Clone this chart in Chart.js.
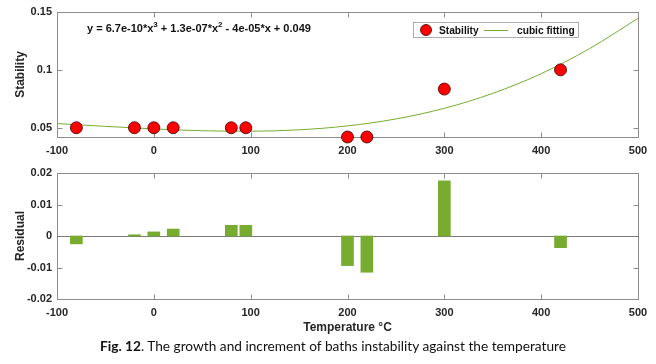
<!DOCTYPE html>
<html lang="en">
<head>
<meta charset="UTF-8" />
<title>Stability</title>
<style>
  body { margin: 0; background: #fff; }
  #wrap { position: relative; width: 656px; height: 364px; }
  .box { position: absolute; left: 0; width: 656px; }
  #topBox { top: 0; height: 160px; }
  #botBox { top: 160px; height: 178px; }
  #caption { position: absolute; left: 0; width: 666px; top: 337px; text-align: center;
             font: 13.7px Lato, sans-serif; color: #111; }
</style>
</head>
<body>
<div id="wrap">
  <div class="box" id="topBox"><canvas id="fitChart"></canvas></div>
  <div class="box" id="botBox"><canvas id="resChart"></canvas></div>
  <div id="caption"><b>Fig. 12</b>. The growth and increment of baths instability against the temperature</div>
</div>
<script src="https://cdn.jsdelivr.net/npm/chart.js"></script>
<script>
// measured points
const temps = [-80, -20, 0, 20, 80, 95, 200, 220, 300, 420];
const stability = [0.05, 0.05, 0.05, 0.05, 0.05, 0.05, 0.042, 0.042, 0.0834, 0.1];
const residuals = [-0.0025, 0.0004, 0.0013, 0.0022, 0.0034, 0.0034, -0.0094, -0.0115, 0.0175, -0.0037];
// fitted curve
const fitX = [-100, -50, 0, 50, 100, 150, 200, 250, 300, 350, 400, 450, 500];
const fitY = [0.0536, 0.0512, 0.049, 0.0474, 0.047, 0.0482, 0.0516, 0.0576, 0.0668, 0.0797, 0.0967, 0.1184, 0.1445];
const xTicks = [-100, 0, 100, 200, 300, 400, 500];
const stabTicks = [0.05, 0.1, 0.15];
const resTicks = [-0.02, -0.01, 0, 0.01, 0.02];

const axisFont = { family: 'Liberation Sans', size: 11, weight: 'bold' };
const titleFont = { family: 'Liberation Sans', size: 12, weight: 'bold' };
const textCol = '#262626';
const green = 'rgb(119,172,48)';

// matlab style box with inward ticks
const frame = {
  id: 'frame',
  beforeDatasetsDraw(chart, args, opts) {
    const { ctx, chartArea: a, scales } = chart;
    ctx.save();
    ctx.strokeStyle = '#8c8c8c';
    ctx.lineWidth = 1;
    const L = Math.round(a.left) + 0.5, R = Math.round(a.right) + 0.5;
    const T = Math.round(a.top) + 0.5, B = Math.round(a.bottom) + 0.5;
    ctx.strokeRect(L, T, R - L, B - T);
    ctx.beginPath();
    for (const v of xTicks) {
      const px = Math.round(scales.x.getPixelForValue(v)) + 0.5;
      ctx.moveTo(px, B); ctx.lineTo(px, B - 5);
      ctx.moveTo(px, T); ctx.lineTo(px, T + 5);
    }
    for (const v of opts.yTicks) {
      const py = Math.round(scales.y.getPixelForValue(v)) + 0.5;
      ctx.moveTo(L, py); ctx.lineTo(L + 5, py);
      ctx.moveTo(R, py); ctx.lineTo(R - 5, py);
    }
    ctx.stroke();
    if (opts.zero) {
      const py = Math.round(scales.y.getPixelForValue(0)) + 0.5;
      ctx.strokeStyle = '#7a7a7a';
      ctx.beginPath();
      ctx.moveTo(L, py); ctx.lineTo(R, py);
      ctx.stroke();
    }
    ctx.restore();
  }
};

// equation text and legend box
const notes = {
  id: 'notes',
  afterDraw(chart) {
    const ctx = chart.ctx;
    ctx.save();
    ctx.fillStyle = '#111';
    ctx.textBaseline = 'alphabetic';
    const parts = [['y = 6.7e-10*x', 0], ['3', 1], [' + 1.3e-07*x', 0], ['2', 1], [' - 4e-05*x + 0.049', 0]];
    let x = 87;
    for (const [s, sup] of parts) {
      ctx.font = sup ? 'bold 8px "Liberation Sans"' : 'bold 11px "Liberation Sans"';
      ctx.fillText(s, x, sup ? 27 : 32);
      x += ctx.measureText(s).width;
    }
    // legend
    ctx.fillStyle = '#fff';
    ctx.strokeStyle = '#9a9a9a';
    ctx.fillRect(413, 22, 165, 15);
    ctx.strokeRect(413.5, 22.5, 165, 15);
    ctx.beginPath();
    ctx.arc(426, 30, 5.5, 0, Math.PI * 2);
    ctx.fillStyle = 'red';
    ctx.fill();
    ctx.strokeStyle = '#3a0000';
    ctx.lineWidth = 0.8;
    ctx.stroke();
    ctx.strokeStyle = green;
    ctx.lineWidth = 1;
    ctx.beginPath();
    ctx.moveTo(484, 30.5); ctx.lineTo(508, 30.5);
    ctx.stroke();
    ctx.fillStyle = '#111';
    ctx.font = 'bold 10.2px "Liberation Sans"';
    ctx.fillText('Stability', 439, 34);
    ctx.fillText('cubic fitting', 517, 34);
    ctx.restore();
  }
};

function xScale(title) {
  return {
    type: 'linear', min: -100, max: 500, offset: false,
    afterBuildTicks: s => { s.ticks = xTicks.map(v => ({ value: v })); },
    afterFit: s => { s.height = title ? 39 : 23; },
    grid: { display: false, drawTicks: false },
    border: { display: false },
    ticks: { font: axisFont, color: textCol, padding: 7, maxRotation: 0 },
    title: title ? { display: true, text: 'Temperature \u00B0C', font: titleFont, color: textCol, padding: { top: 0, bottom: 3 } } : { display: false }
  };
}

function yScale(min, max, ticks, title) {
  return {
    min: min, max: max,
    afterBuildTicks: s => { s.ticks = ticks.map(v => ({ value: v })); },
    afterFit: s => { s.width = 57; },
    grid: { display: false, drawTicks: false },
    border: { display: false },
    ticks: { font: axisFont, color: textCol, padding: 5, callback: v => String(v) },
    title: { display: true, text: title, font: titleFont, color: textCol, padding: { top: 13, bottom: 0 } }
  };
}

new Chart('fitChart', {
  type: 'line',
  data: {
    datasets: [
      {
        label: 'cubic fitting',
        data: fitX.map((v, i) => ({ x: v, y: fitY[i] })),
        borderColor: green, borderWidth: 1, pointRadius: 0,
        cubicInterpolationMode: 'monotone', order: 2
      },
      {
        label: 'Stability',
        data: temps.map((v, i) => ({ x: v, y: stability[i] })),
        showLine: false, pointRadius: 6, pointBackgroundColor: 'red',
        pointBorderColor: '#3a0000', pointBorderWidth: 0.8, order: 1
      }
    ]
  },
  options: {
    responsive: true, maintainAspectRatio: false, animation: false,
    clip: false,
    layout: { padding: { top: 12, right: 18, left: 0, bottom: 0 } },
    plugins: { legend: { display: false }, tooltip: { enabled: false }, frame: { yTicks: stabTicks } },
    scales: { x: xScale(false), y: yScale(0.042, 0.15, stabTicks, 'Stability') }
  },
  plugins: [frame, notes]
});

new Chart('resChart', {
  type: 'bar',
  data: {
    datasets: [{
      label: 'Residual',
      data: temps.map((v, i) => ({ x: v, y: residuals[i] })),
      backgroundColor: green, barThickness: 12
    }]
  },
  options: {
    responsive: true, maintainAspectRatio: false, animation: false,
    layout: { padding: { top: 13, right: 18, left: 0, bottom: 0 } },
    plugins: { legend: { display: false }, tooltip: { enabled: false }, frame: { yTicks: resTicks, zero: true } },
    scales: { x: xScale(true), y: yScale(-0.02, 0.02, resTicks, 'Residual') }
  },
  plugins: [frame]
});
</script>
</body>
</html>
